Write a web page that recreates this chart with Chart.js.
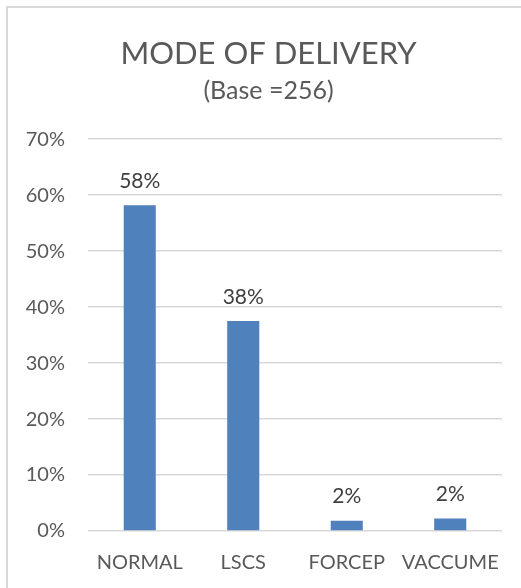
<!DOCTYPE html>
<html>
<head>
<meta charset="utf-8">
<title>Mode of delivery</title>
<script src="https://cdn.jsdelivr.net/npm/chart.js@4/dist/chart.umd.min.js"></script>
<style>
  html, body { margin: 0; padding: 0; background: #fff; overflow: hidden; }
  .wrap { position: relative; width: 521px; height: 588px; overflow: hidden; }
  /* chart frame, only top/left edges fall inside the page */
  .frame { position: absolute; left: 6px; top: 6px; width: 600px; height: 700px;
           border: 2px solid #d9d9d9; box-sizing: border-box; }
  #chart { position: absolute; left: 0; top: 0; }
</style>
</head>
<body>
<div class="wrap">
  <div class="frame"></div>
  <!-- canvas runs a bit past the right edge so the title centres on the full frame -->
  <canvas id="chart" width="537" height="588"></canvas>
</div>
<script>
// 분만 방식 (%)
const categories = ['NORMAL', 'LSCS', 'FORCEP', 'VACCUME'];
const shares     = [58.2, 37.5, 1.85, 2.25];
const yTicks     = [0, 10, 20, 30, 40, 50, 60, 70];

const FONT = 'Lato';
const BAR_COLOR = '#4f81bd';

// 제목/부제목 박스를 캔버스 전체 폭으로 늘림 (오른쪽 여백 무시)
const wideTitles = {
  id: 'wideTitles',
  afterLayout(chart) {
    chart.boxes
      .filter(b => b.position === 'top')
      .forEach(b => { b.right = chart.width; b.width = b.right - b.left; });
  }
};

// 막대 위 값 표시
const valueLabels = {
  id: 'valueLabels',
  afterDatasetsDraw(chart) {
    const { ctx } = chart;
    const meta = chart.getDatasetMeta(0);
    ctx.save();
    ctx.font = `21px ${FONT}`;
    ctx.fillStyle = '#404040';
    ctx.textAlign = 'center';
    ctx.textBaseline = 'middle';
    meta.data.forEach((bar, i) => {
      ctx.fillText(Math.round(shares[i]) + '%', bar.x, bar.y - 24);
    });
    ctx.restore();
  }
};

function renderDeliveryChart(canvasId) {
  const canvas = document.getElementById(canvasId);
  if (!canvas) return;

  return new Chart(canvas, {
    type: 'bar',
    data: {
      labels: categories,
      datasets: [{
        data: shares,
        backgroundColor: BAR_COLOR,
        borderWidth: 0,
        categoryPercentage: 1,
        barPercentage: 0.31
      }]
    },
    options: {
      responsive: false,
      animation: false,
      layout: { padding: { left: 0, right: 35, top: 0, bottom: 13 } },
      plugins: {
        legend: { display: false },
        tooltip: { enabled: false },
        title: {
          display: true,
          text: 'MODE OF DELIVERY',
          color: '#595959',
          font: { family: FONT, size: 31, weight: 'normal' },
          padding: { top: 35, bottom: 4 }
        },
        subtitle: {
          display: true,
          text: '(Base =256)',
          color: '#595959',
          font: { family: FONT, size: 25, weight: 'normal' },
          padding: { top: 0, bottom: 33 }
        }
      },
      scales: {
        x: {
          afterFit: s => { s.height = 44; },
          grid: { display: false, drawTicks: false },
          border: { display: false },
          ticks: {
            color: '#595959',
            font: { family: FONT, size: 20 },
            padding: 20,
            maxRotation: 0,
            autoSkip: false
          }
        },
        y: {
          min: 0,
          max: 70,
          afterFit: s => { s.width = 88; },
          afterBuildTicks: s => { s.ticks = yTicks.map(v => ({ value: v })); },
          grid: { color: '#d9d9d9', lineWidth: 1.5, drawTicks: false },
          border: { display: false },
          ticks: {
            color: '#595959',
            font: { family: FONT, size: 20 },
            padding: 23,
            callback: v => v + '%'
          }
        }
      }
    },
    plugins: [wideTitles, valueLabels]
  });
}

renderDeliveryChart('chart');
</script>
</body>
</html>
